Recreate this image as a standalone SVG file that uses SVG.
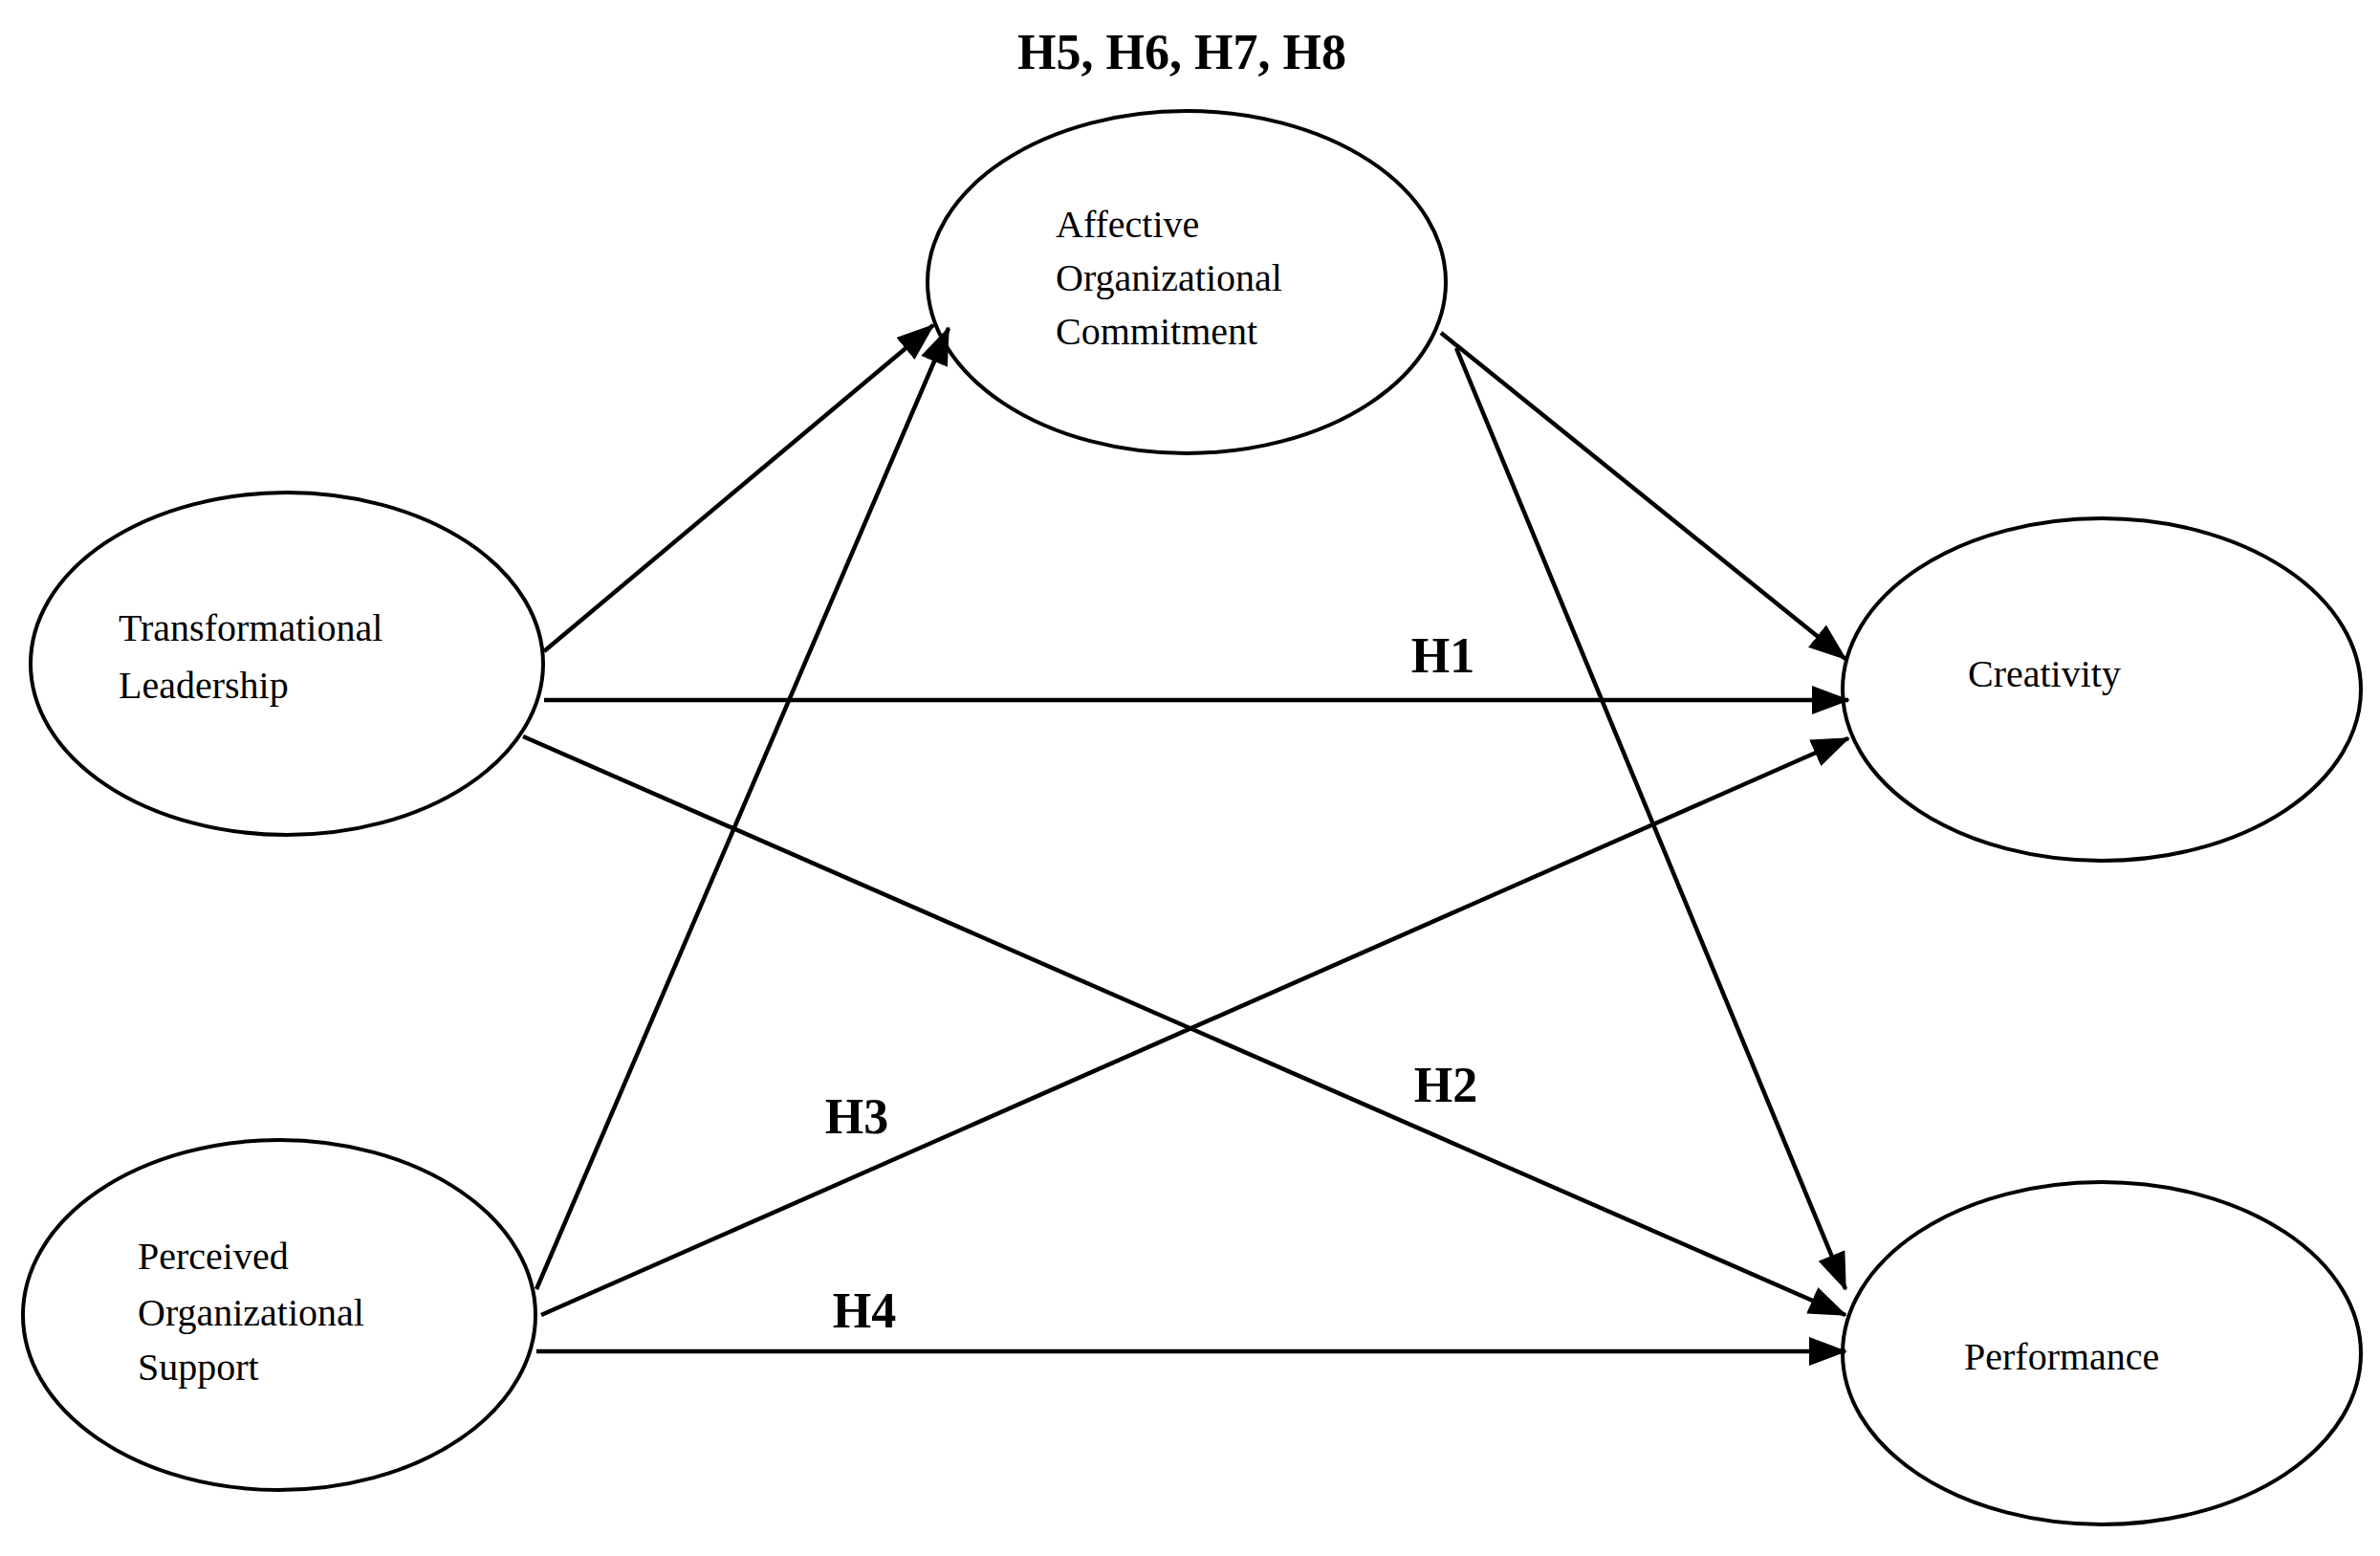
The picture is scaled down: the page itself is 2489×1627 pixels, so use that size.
<svg xmlns="http://www.w3.org/2000/svg" width="2489" height="1627" viewBox="0 0 2489 1627">
<style>
.n{fill:#fff;stroke:#000;stroke-width:4}
.t{font-family:"Liberation Serif",serif;font-size:40px;fill:#000}
.h{font-family:"Liberation Serif",serif;font-size:52px;font-weight:bold;fill:#000}
.c line{stroke:#000;stroke-width:4.5}
</style>
<defs><marker id="a" markerUnits="userSpaceOnUse" markerWidth="40" markerHeight="30" refX="38" refY="15" orient="auto"><path d="M0,0 L40,15 L0,30 Z" fill="#000"/></marker></defs>
<rect width="2489" height="1627" fill="#fff"/>
<g id="aoc"><ellipse class="n" cx="1241" cy="295" rx="271" ry="179"/><text class="t" x="1104" y="248">Affective</text><text class="t" x="1104" y="304">Organizational</text><text class="t" x="1104" y="360">Commitment</text></g>
<g id="tl"><ellipse class="n" cx="300" cy="694" rx="268" ry="179"/><text class="t" x="124" y="670">Transformational</text><text class="t" x="124" y="730">Leadership</text></g>
<g id="pos"><ellipse class="n" cx="292" cy="1375" rx="268" ry="183"/><text class="t" x="144" y="1327">Perceived</text><text class="t" x="144" y="1386">Organizational</text><text class="t" x="144" y="1443">Support</text></g>
<g id="cr"><ellipse class="n" cx="2198" cy="721" rx="271" ry="179"/><text class="t" x="2058" y="718">Creativity</text></g>
<g id="pf"><ellipse class="n" cx="2198" cy="1415" rx="271" ry="179"/><text class="t" x="2054" y="1432">Performance</text></g>
<g class="c">
<line x1="569" y1="681" x2="976" y2="340" marker-end="url(#a)"/>
<line x1="569" y1="732" x2="1933" y2="732" marker-end="url(#a)"/>
<line x1="547" y1="770" x2="1930" y2="1375" marker-end="url(#a)"/>
<line x1="561" y1="1348" x2="992" y2="343" marker-end="url(#a)"/>
<line x1="566" y1="1375" x2="1933" y2="772" marker-end="url(#a)"/>
<line x1="561" y1="1413" x2="1930" y2="1413" marker-end="url(#a)"/>
<line x1="1507" y1="348" x2="1930" y2="689" marker-end="url(#a)"/>
<line x1="1523" y1="364" x2="1930" y2="1348" marker-end="url(#a)"/>
</g>
<g id="labels">
<text class="h" x="1236" y="72" text-anchor="middle">H5, H6, H7, H8</text>
<text class="h" x="1509" y="703" text-anchor="middle">H1</text>
<text class="h" x="1512" y="1152" text-anchor="middle">H2</text>
<text class="h" x="896" y="1185" text-anchor="middle">H3</text>
<text class="h" x="904" y="1388" text-anchor="middle">H4</text>
</g>
</svg>
